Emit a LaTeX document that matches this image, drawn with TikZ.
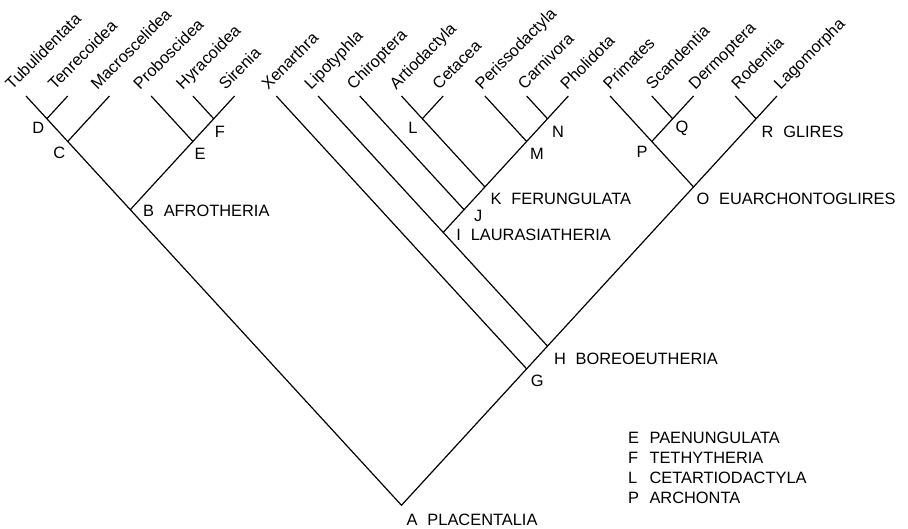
\documentclass[tikz,border=0pt]{standalone}
\usepackage{fontspec}
\setmainfont{Liberation Sans}

\newcommand{\cladename}[2]{#1\hspace{0.6em}#2}

\begin{document}
\begin{tikzpicture}[x=1pt, y=-1pt,
    branch/.style={line width=1.2pt},
    taxon/.style={rotate=45, anchor=base west, inner sep=0pt, font=\fontsize{16.4}{19}\selectfont},
    tag/.style={inner sep=0pt, font=\fontsize{16.4}{19}\selectfont},
    clade/.style={tag, anchor=base west}]
    \useasboundingbox (0,0) rectangle (908,528);

    % Leaves and their names
    \foreach \name [count=\i from 0] in {Tubulidentata, Tenrecoidea, Macroscelidea, Proboscidea,
        Hyracoidea, Sirenia, Xenarthra, Lipotyphla, Chiroptera, Artiodactyla, Cetacea,
        Perissodactyla, Carnivora, Pholidota, Primates, Scandentia, Dermoptera, Rodentia, Lagomorpha} {
        \coordinate (t\i) at ({26+41.72*\i}, 96);
        \node[taxon] (taxon\i) at ({12+42.7*\i}, 90.5) {\name};
    }

    % Internal nodes
    \coordinate (D) at (46.86, 118.74);
    \coordinate (C) at (67.72, 141.47);
    \coordinate (F) at (213.74, 118.74);
    \coordinate (E) at (192.88, 141.47);
    \coordinate (B) at (130.30, 209.69);
    \coordinate (L) at (422.34, 118.74);
    \coordinate (N) at (547.50, 118.74);
    \coordinate (M) at (526.64, 141.47);
    \coordinate (K) at (484.92, 186.95);
    \coordinate (J) at (464.06, 209.69);
    \coordinate (I) at (443.20, 232.42);
    \coordinate (Q) at (672.66, 118.74);
    \coordinate (P) at (651.80, 141.47);
    \coordinate (R) at (756.10, 118.74);
    \coordinate (O) at (693.52, 186.95);
    \coordinate (H) at (547.50, 346.11);
    \coordinate (G) at (526.64, 368.85);
    \coordinate (A) at (401.48, 505.27);

    % Branches
    \draw[branch] (t0) -- (D) -- (C) -- (B) -- (A) -- (G) -- (H) -- (O) -- (R) -- (t18);
    \draw[branch] (t1) -- (D);
    \draw[branch] (t2) -- (C);
    \draw[branch] (B) -- (E) -- (F) -- (t5);
    \draw[branch] (t3) -- (E);
    \draw[branch] (t4) -- (F);
    \draw[branch] (t6) -- (G);
    \draw[branch] (t7) -- (I) -- (H);
    \draw[branch] (I) -- (J) -- (K) -- (M) -- (N) -- (t13);
    \draw[branch] (t8) -- (J);
    \draw[branch] (t9) -- (L) -- (K);
    \draw[branch] (L) -- (t10);
    \draw[branch] (t11) -- (M);
    \draw[branch] (t12) -- (N);
    \draw[branch] (t14) -- (P) -- (O);
    \draw[branch] (P) -- (Q) -- (t16);
    \draw[branch] (t15) -- (Q);
    \draw[branch] (t17) -- (R);

    % Node letters
    \node[tag] (tagD) at (38.3, 128.3) {D};
    \node[tag] (tagC) at (59.3, 153.3) {C};
    \node[tag] (tagE) at (200, 154) {E};
    \node[tag] (tagF) at (220, 131.7) {F};
    \node[tag] (tagL) at (413, 128) {L};
    \node[tag] (tagM) at (537, 154) {M};
    \node[tag] (tagN) at (558, 132) {N};
    \node[tag] (tagJ) at (478.3, 216) {J};
    \node[tag] (tagQ) at (682, 128) {Q};
    \node[tag] (tagP) at (642, 152) {P};
    \node[tag] (tagG) at (537.2, 381.3) {G};

    % Named clades
    \node[clade] (tagB) at (142.8, 216.7) {\cladename{B}{AFROTHERIA}};
    \node[clade] (tagI) at (456.2, 240) {\cladename{I}{LAURASIATHERIA}};
    \node[clade] (tagK) at (490.4, 204) {\cladename{K}{FERUNGULATA}};
    \node[clade] (tagO) at (696.3, 204.5) {\cladename{O}{EUARCHONTOGLIRES}};
    \node[clade] (tagR) at (761.4, 137.3) {\cladename{R}{GLIRES}};
    \node[clade] (tagH) at (553.8, 364.3) {\cladename{H}{BOREOEUTHERIA}};
    \node[clade] (tagA) at (406.5, 525) {\cladename{A}{PLACENTALIA}};

    % Key
    \foreach \ltr/\word [count=\k from 0] in {E/PAENUNGULATA, F/TETHYTHERIA, L/CETARTIODACTYLA, P/ARCHONTA}
        \node[clade] (key\k) at (628, {443.3+20*\k}) {\makebox[1.3em][l]{\ltr}\word};
\end{tikzpicture}
\end{document}
